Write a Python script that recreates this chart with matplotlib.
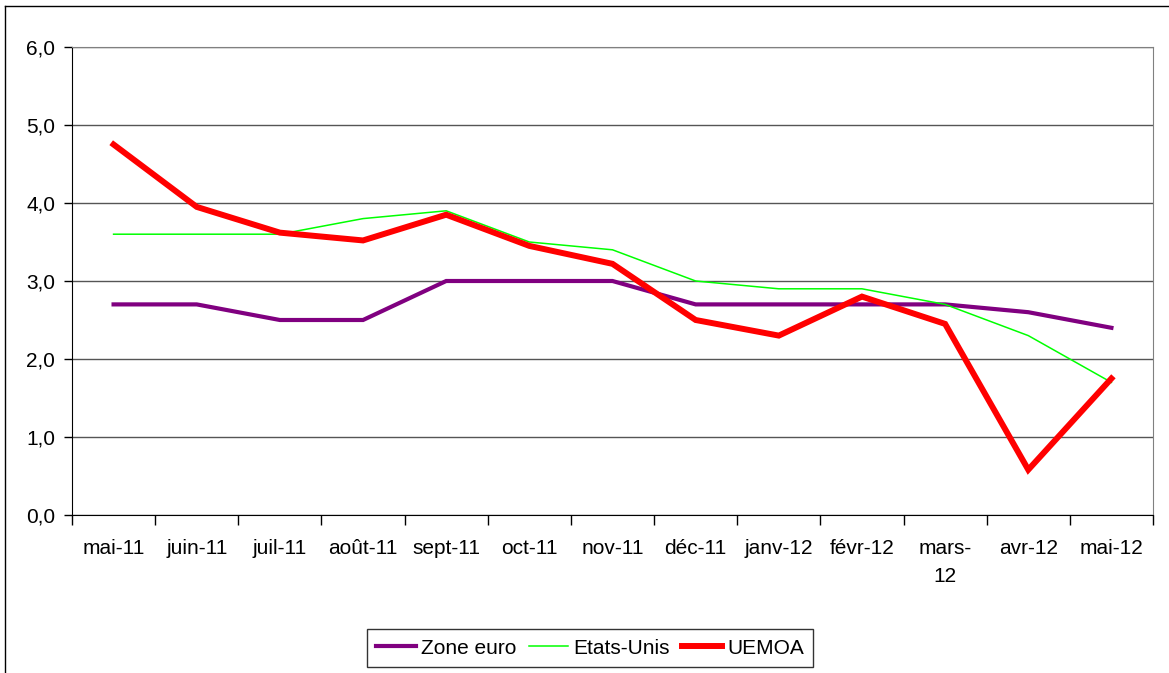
import matplotlib.pyplot as plt
import numpy as np
from matplotlib.lines import Line2D
from matplotlib.ticker import FuncFormatter, FixedLocator

plt.rcParams['font.family'] = ['Liberation Sans', 'DejaVu Sans']

months = ["mai-11", "juin-11", "juil-11", "août-11", "sept-11", "oct-11", "nov-11",
          "déc-11", "janv-12", "févr-12", "mars-\n12", "avr-12", "mai-12"]
zone_euro = [2.7, 2.7, 2.5, 2.5, 3.0, 3.0, 3.0, 2.7, 2.7, 2.7, 2.7, 2.6, 2.4]
etats_unis = [3.6, 3.6, 3.6, 3.8, 3.9, 3.5, 3.4, 3.0, 2.9, 2.9, 2.7, 2.3, 1.7]
uemoa = [4.75, 3.95, 3.62, 3.52, 3.85, 3.45, 3.22, 2.5, 2.3, 2.8, 2.45, 0.58, 1.75]

W, H = 1169, 673
fs = 15
fig = plt.figure(figsize=(W / 100, H / 100), dpi=100)
ax = fig.add_axes([72 / W, 1 - 515 / H, (1153 - 72) / W, (515 - 47) / H])

x = np.arange(len(months))
ax.plot(x, zone_euro, color='#800080', lw=3, label='Zone euro', solid_joinstyle='miter')
ax.plot(x, etats_unis, color='#00FF00', lw=1.1, label='Etats-Unis')
ax.plot(x, uemoa, color='#FF0000', lw=4.3, label='UEMOA', solid_joinstyle='miter')

ax.set_xlim(-0.5, len(months) - 0.5)
ax.set_ylim(0, 6)
ax.set_yticks(np.arange(0, 7, 1))
ax.yaxis.set_major_formatter(FuncFormatter(lambda v, p: f"{v:.1f}".replace('.', ',')))
ax.yaxis.grid(True, color='#555555', lw=1)
ax.set_axisbelow(True)

ax.set_xticks(x)
ax.set_xticklabels(months, linespacing=1.6)
ax.xaxis.set_minor_locator(FixedLocator(np.arange(-0.5, len(months), 1)))
ax.tick_params(axis='x', which='major', length=0, pad=17, labelsize=fs)
ax.tick_params(axis='x', which='minor', length=7, width=1, direction='out')
ax.tick_params(axis='y', length=6, width=1, pad=6, labelsize=fs)

for s in ['top', 'right']:
    ax.spines[s].set_color('#808080')
for s in ['left', 'bottom']:
    ax.spines[s].set_color('black')

leg = fig.legend(loc='center', bbox_to_anchor=(590 / W, 1 - 648 / H), ncol=3,
                 fontsize=fs, frameon=True, fancybox=False, edgecolor='black',
                 handlelength=1.9, handletextpad=0.25, columnspacing=0.6,
                 borderpad=0.45)
leg.get_frame().set_linewidth(1)

# outer chart frame
fig.add_artist(Line2D([5 / W, 5 / W], [0, 1 - 6 / H], color='black', lw=1))
fig.add_artist(Line2D([5 / W, 1], [1 - 6 / H, 1 - 6 / H], color='black', lw=1))

fig.savefig('out.png', dpi=100)
